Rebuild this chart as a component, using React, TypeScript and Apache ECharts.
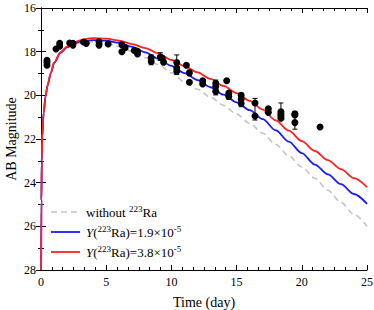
import React, { useEffect, useRef } from "react";
import * as echarts from "echarts";

// Model light curves (time in days, AB magnitude)
const curveTime = [0.01, 0.03, 0.06, 0.1, 0.2, 0.35, 0.5, 0.75, 1, 1.5, 2, 2.5, 3, 3.5, 4, 5, 6, 7, 8, 9, 10, 11, 12, 13, 14, 15, 16, 17, 18, 19, 20, 21, 22, 23, 24, 25];
const magNoRa = [28, 24.8, 23.0, 21.9, 20.8, 20.05, 19.56, 19.0, 18.55, 18.08, 17.84, 17.68, 17.6, 17.56, 17.56, 17.62, 17.77, 17.99, 18.27, 18.6, 18.97, 19.38, 19.72, 20.08, 20.46, 20.86, 21.28, 21.73, 22.25, 22.77, 23.28, 23.8, 24.35, 24.9, 25.45, 26.0];
const magRa19 = [28, 24.8, 23.0, 21.9, 20.8, 20.05, 19.55, 18.99, 18.52, 18.05, 17.8, 17.64, 17.54, 17.49, 17.47, 17.5, 17.6, 17.78, 18.03, 18.33, 18.65, 18.98, 19.3, 19.63, 19.97, 20.32, 20.68, 21.09, 21.6, 22.12, 22.65, 23.17, 23.62, 24.07, 24.52, 24.97];
const magRa38 = [28, 24.8, 23.0, 21.9, 20.8, 20.05, 19.55, 18.98, 18.5, 18.02, 17.77, 17.6, 17.48, 17.41, 17.38, 17.4, 17.5, 17.65, 17.84, 18.08, 18.38, 18.66, 18.95, 19.25, 19.57, 19.9, 20.25, 20.65, 21.15, 21.62, 22.1, 22.55, 22.97, 23.38, 23.79, 24.2];

// Observations
const obsTime = [0.46, 0.46, 0.46, 1.15, 1.43, 1.43, 2.2, 2.45, 2.45, 3.26, 3.47, 4.45, 4.45, 5.15, 6.2, 6.2, 6.45, 7.15, 7.4, 7.4, 8.45, 8.45, 9.15, 9.3, 9.4, 10.41, 10.41, 10.41, 11.15, 11.38, 11.38, 12.4, 12.4, 13.4, 13.4, 13.4, 14.24, 14.4, 14.4, 15.35, 15.35, 15.35, 16.41, 16.41, 17.43, 17.43, 18.4, 18.4, 18.4, 18.4, 19.47, 19.47, 19.47, 21.4];
const obsMag = [18.4, 18.5, 18.62, 17.88, 17.62, 17.75, 17.6, 17.62, 17.7, 17.56, 17.62, 17.55, 17.7, 17.65, 17.68, 18.0, 17.82, 17.95, 17.98, 18.1, 18.28, 18.45, 18.25, 18.3, 18.48, 18.5, 18.75, 18.9, 18.62, 18.97, 19.4, 19.33, 19.48, 19.45, 19.6, 19.82, 19.33, 19.9, 20.05, 20.0, 20.18, 20.37, 20.35, 20.95, 20.62, 20.78, 20.75, 20.85, 20.95, 21.05, 20.85, 20.9, 21.25, 21.45];

// Error bars
const errTime = [1.43, 7.4, 8.45, 9.15, 10.41, 11.38, 13.4, 14.4, 15.35, 16.41, 18.4, 19.47];
const errLow = [17.55, 17.9, 18.15, 18.05, 18.15, 18.85, 19.3, 19.83, 19.9, 20.14, 20.35, 20.75];
const errHigh = [17.85, 18.15, 18.6, 18.4, 19.05, 19.1, 19.98, 20.18, 20.52, 21.13, 21.1, 21.55];

// Legend labels (rich text)
const legendLabels = [
  "without {sup|223}Ra",
  "{it|Y}({sup|223}Ra)=1.9×10{sup|-5}",
  "{it|Y}({sup|223}Ra)=3.8×10{sup|-5}",
];
const COLOR_NORA = "#c4c4c4";
const COLOR_RA19 = "#1a1aff";
const COLOR_RA38 = "#ff2020";

const FONT = "'Liberation Serif', 'Times New Roman', serif";

export default function App() {
  const ref = useRef<HTMLDivElement>(null);
  useEffect(() => {
    if (!ref.current) return;
    const chart = echarts.init(ref.current, null, { renderer: "svg" });
    const pair = (ys: number[]) => curveTime.map((t, i) => [t, ys[i]]);
    const axisCommon = {
      axisLine: { show: true, lineStyle: { color: "#000", width: 1 } },
      axisTick: { show: true, inside: true, length: 5, lineStyle: { color: "#000" } },
      splitLine: { show: false },
    };
    const rich = {
      sup: { fontSize: 9, fontFamily: FONT, fill: "#000", color: "#000", verticalAlign: "top", lineHeight: 10 },
      it: { fontSize: 13, fontFamily: FONT, fill: "#000", color: "#000", fontStyle: "italic", lineHeight: 16 },
    };
    const legendColors = [COLOR_NORA, COLOR_RA19, COLOR_RA38];
    const legendGraphics: any[] = [];
    legendLabels.forEach((label, i) => {
      const y = 212 + i * 20;
      legendGraphics.push({
        type: "line",
        shape: { x1: 51, y1: y, x2: 80, y2: y },
        style: { stroke: legendColors[i], lineWidth: i === 0 ? 1.6 : 1.8, lineDash: i === 0 ? [6, 4] : null },
      });
      legendGraphics.push({
        type: "text",
        x: 86,
        y: y,
        style: {
          text: label,
          fontSize: 13,
          fontFamily: FONT,
          fill: "#000",
          lineHeight: 16,
          verticalAlign: "middle",
          align: "left",
          rich,
        },
      });
    });
    chart.setOption({
      animation: false,
      backgroundColor: "#fff",
      grid: { left: 41, right: 7, top: 8, bottom: 40, outerBoundsMode: "none", containLabel: false },
      xAxis: [
        {
          type: "value", min: 0, max: 25, interval: 5,
          ...axisCommon,
          minorTick: { show: true, splitNumber: 6, length: 3, lineStyle: { color: "#000" } },
          axisLabel: { color: "#000", fontSize: 12, fontFamily: FONT, margin: 6 },
          name: "Time (day)", nameLocation: "middle", nameGap: 25, nameMoveOverlap: false,
          nameTextStyle: { color: "#000", fontSize: 14, fontFamily: FONT },
        },
        {
          type: "value", min: 0, max: 25, interval: 5, position: "top",
          ...axisCommon,
          minorTick: { show: true, splitNumber: 6, length: 3, lineStyle: { color: "#000" } },
          axisLabel: { show: false },
        },
      ],
      yAxis: [
        {
          type: "value", min: 16, max: 28, interval: 2, inverse: true,
          ...axisCommon,
          minorTick: { show: true, splitNumber: 2, length: 3, lineStyle: { color: "#000" } },
          axisLabel: { color: "#000", fontSize: 12, fontFamily: FONT, margin: 5 },
          name: "AB Magnitude", nameLocation: "middle", nameGap: 23, nameMoveOverlap: false,
          nameTextStyle: { color: "#000", fontSize: 14, fontFamily: FONT },
        },
        {
          type: "value", min: 16, max: 28, interval: 2, inverse: true, position: "right",
          ...axisCommon,
          minorTick: { show: true, splitNumber: 2, length: 3, lineStyle: { color: "#000" } },
          axisLabel: { show: false },
        },
      ],
      graphic: legendGraphics,
      series: [
        {
          name: "noRa", type: "line", data: pair(magNoRa), showSymbol: false, symbol: "none",
          smooth: 0.3, smoothMonotone: "x",
          lineStyle: { color: COLOR_NORA, width: 1.6, type: [6, 4] }, z: 2,
        },
        {
          name: "ra19", type: "line", data: pair(magRa19), showSymbol: false, symbol: "none",
          smooth: 0.3, smoothMonotone: "x",
          lineStyle: { color: COLOR_RA19, width: 1.8 }, z: 3,
        },
        {
          name: "ra38", type: "line", data: pair(magRa38), showSymbol: false, symbol: "none",
          smooth: 0.3, smoothMonotone: "x",
          lineStyle: { color: COLOR_RA38, width: 1.8 }, z: 4,
        },
        {
          name: "err", type: "custom", z: 5,
          data: errTime.map((t, i) => [t, errLow[i], errHigh[i]]),
          renderItem: (params: any, api: any) => {
            const p1 = api.coord([api.value(0), api.value(1)]);
            const p2 = api.coord([api.value(0), api.value(2)]);
            const w = 2.5;
            const style = { stroke: "#000", lineWidth: 1 };
            return {
              type: "group",
              children: [
                { type: "line", shape: { x1: p1[0], y1: p1[1], x2: p2[0], y2: p2[1] }, style },
                { type: "line", shape: { x1: p1[0] - w, y1: p1[1], x2: p1[0] + w, y2: p1[1] }, style },
                { type: "line", shape: { x1: p2[0] - w, y1: p2[1], x2: p2[0] + w, y2: p2[1] }, style },
              ],
            };
          },
        },
        {
          name: "obs", type: "scatter", z: 6,
          data: obsTime.map((t, i) => [t, obsMag[i]]),
          symbol: "circle", symbolSize: 7,
          itemStyle: { color: "#000", opacity: 1 },
        },
      ],
    });
    return () => chart.dispose();
  }, []);
  return <div ref={ref} style={{ position: "fixed", left: 0, top: 0, width: 374, height: 310 }} />;
}
